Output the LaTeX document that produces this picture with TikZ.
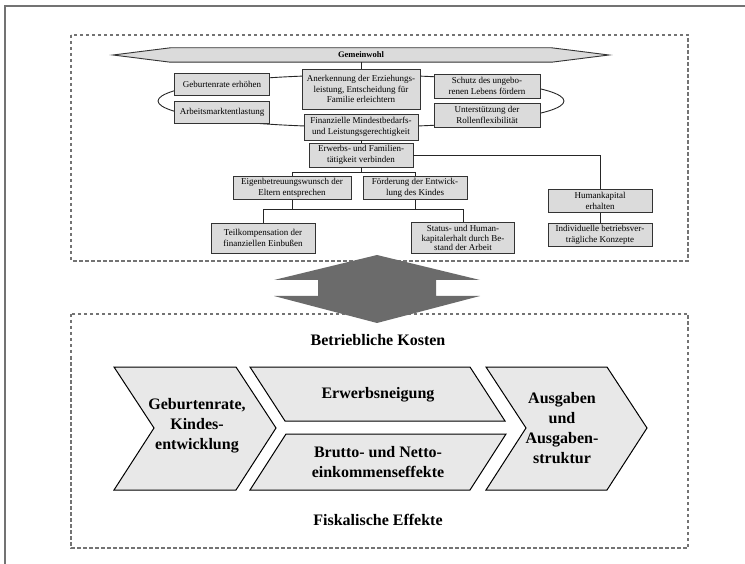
\documentclass[tikz,border=0pt]{standalone}
\usepackage{fontspec}
\setmainfont{Liberation Serif}
\usetikzlibrary{backgrounds}
\definecolor{boxgray}{gray}{0.86}
\definecolor{chevgray}{gray}{0.91}
\definecolor{framegray}{gray}{0.45}
\definecolor{arrowgray}{gray}{0.42}
\tikzset{box/.style = {draw=black!80, fill=boxgray, line width=0.9pt, align=center,
                       inner sep=1pt, font=\fontsize{9}{10.5}\selectfont},
         link/.style = {draw=black!85, line width=0.9pt},
         region/.style = {draw=framegray, line width=1.3pt, dash pattern=on 3.5pt off 2.5pt},
         chev/.style = {draw=black, fill=chevgray, line width=1pt},
         chevtext/.style = {align=center, font=\fontsize{16}{20}\selectfont\bfseries}}

\begin{document}
\begin{tikzpicture}[x=1pt, y=-1pt]
      \useasboundingbox (0,0) rectangle (745,564);
      \draw [framegray, line width=1.4pt] (5,564) -- (5,6) -- (745,6);
      \draw [region] (71,35) rectangle (688,261);
      \draw [region] (71,314) rectangle (688,548);

      % ring of goals
      \draw [link] (361,101) ellipse [x radius=203pt, y radius=26pt];

      \node [minimum width=381, minimum height=14, inner sep=0,
             font=\fontsize{8.5}{10}\selectfont\bfseries] (gw) at (361,55) {Gemeinwohl};
      \begin{scope}[on background layer]
        \draw [box] (gw.north west) -- (gw.north east) -- (609,55) -- (gw.south east)
                    -- (gw.south west) -- (113,55) -- cycle;
      \end{scope}

      \node [box, minimum width=95, minimum height=22] (geb) at (222,84) {Geburtenrate erhöhen};
      \node [box, minimum width=95, minimum height=22] (arb) at (222,112) {Arbeitsmarktentlastung};
      \node [box, minimum width=118, minimum height=40] (aner) at (361,89)
            {Anerkennung der Erziehungs-\\leistung, Entscheidung für\\Familie erleichtern};
      \node [box, minimum width=106, minimum height=24] (schutz) at (487,86)
            {Schutz des ungebo-\\renen Lebens fördern};
      \node [box, minimum width=106, minimum height=24] (rolle) at (487,115)
            {Unterstützung der\\Rollenflexibilität};
      \node [box, minimum width=114, minimum height=26] (finanz) at (361,127)
            {Finanzielle Mindestbedarfs-\\und Leistungsgerechtigkeit};
      \node [box, minimum width=104, minimum height=24] (erwerb) at (361,155)
            {Erwerbs- und Familien-\\tätigkeit verbinden};
      \node [box, minimum width=118, minimum height=23] (eigen) at (292,188)
            {Eigenbetreuungswunsch der\\Eltern entsprechen};
      \node [box, minimum width=104, minimum height=23] (foerd) at (415,188)
            {Förderung der Entwick-\\lung des Kindes};
      \node [box, minimum width=104, minimum height=30] (teil) at (263,238)
            {Teilkompensation der\\finanziellen Einbußen};
      \node [box, minimum width=103, minimum height=31, font=\fontsize{9}{9.5}\selectfont] (status) at (463,238)
            {Status- und Human-\\kapitalerhalt durch Be-\\stand der Arbeit};
      \node [box, minimum width=104, minimum height=23] (human) at (600,201)
            {Humankapital\\erhalten};
      \node [box, minimum width=104, minimum height=23] (indiv) at (600,235)
            {Individuelle betriebsver-\\trägliche Konzepte};

      \draw [link] (gw.south) -- (aner.north);
      \draw [link] (finanz.south) -- (erwerb.north);
      \draw [link] (erwerb.south) -- ++(0,5) coordinate (j1) -| (eigen.north);
      \draw [link] (j1) -| (foerd.north);
      \draw [link] (eigen.south) -- ++(0,10) coordinate (j2) -| (teil.north);
      \draw [link] (j2) -| (status.north);
      \draw [link] (foerd.south) -- (foerd.south |- j2);
      \draw [link] (erwerb.east) -| (human.north);
      \draw [link] (human.south) -- (indiv.north);

      % double arrow between the two parts
      \fill [arrowgray] (377,255) -- (480,280) -- (436,280) -- (436,296) -- (480,296)
                        -- (377,323) -- (274,296) -- (318,296) -- (318,280) -- (274,280) -- cycle;

      \node [chevtext] (kosten) at (378,340) {Betriebliche Kosten};

      \draw [chev] (114,367) -- (236,367) -- (276,428) -- (236,490) -- (114,490) -- (154,428) -- cycle;
      \draw [chev] (250,367) -- (470,367) -- (505,421) -- (285,421) -- cycle;
      \draw [chev] (286,434) -- (506,434) -- (470,490) -- (250,490) -- cycle;
      \draw [chev] (486,367) -- (607,367) -- (647,428) -- (607,490) -- (486,490) -- (526,428) -- cycle;

      \node [chevtext] (kind) at (197,426) {Geburtenrate,\\Kindes-\\entwicklung};
      \node [chevtext] (neigung) at (378,395) {Erwerbsneigung};
      \node [chevtext] (einkom) at (378,462) {Brutto- und Netto-\\einkommenseffekte};
      \node [chevtext] (ausgab) at (562,428) {Ausgaben\\und\\Ausgaben-\\struktur};

      \node [chevtext] (fisk) at (378,520) {Fiskalische Effekte};
    \end{tikzpicture}
\end{document}
